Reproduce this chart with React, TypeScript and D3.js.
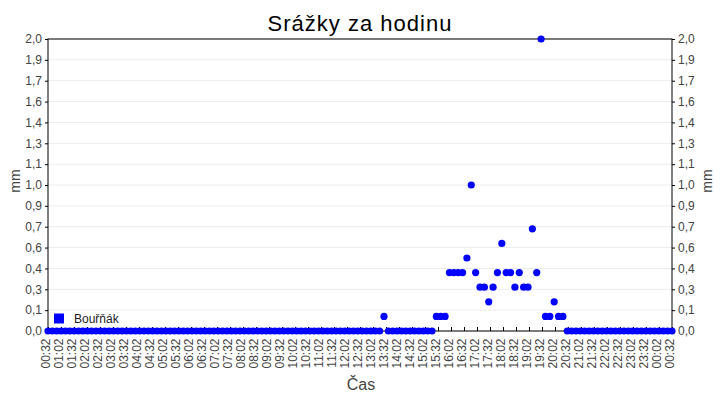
import { useEffect, useRef } from "react";
import * as d3 from "d3";

const TITLE = "Srážky za hodinu";
const SERIES_NAME = "Bouřňák";
const Y_LABEL = "mm";
const X_LABEL = "Čas";

const X_TICK_LABELS = [
  "00:32", "01:02", "01:32", "02:02", "02:32", "03:02", "03:32", "04:02", "04:32", "05:02",
  "05:32", "06:02", "06:32", "07:02", "07:32", "08:02", "08:32", "09:02", "09:32", "10:02",
  "10:32", "11:02", "11:32", "12:02", "12:32", "13:02", "13:32", "14:02", "14:32", "15:02",
  "15:32", "16:02", "16:32", "17:02", "17:32", "18:02", "18:32", "19:02", "19:32", "20:02",
  "20:32", "21:02", "21:32", "22:02", "22:32", "23:02", "23:32", "00:02", "00:32",
];

// rainfall per sample (mm), 144 samples across the day
const RAIN = [
  0, 0, 0, 0, 0, 0, 0, 0, 0, 0, 0, 0,
  0, 0, 0, 0, 0, 0, 0, 0, 0, 0, 0, 0,
  0, 0, 0, 0, 0, 0, 0, 0, 0, 0, 0, 0,
  0, 0, 0, 0, 0, 0, 0, 0, 0, 0, 0, 0,
  0, 0, 0, 0, 0, 0, 0, 0, 0, 0, 0, 0,
  0, 0, 0, 0, 0, 0, 0, 0, 0, 0, 0, 0,
  0, 0, 0, 0, 0, 0.1, 0, 0, 0, 0, 0, 0,
  0, 0, 0, 0, 0, 0.1, 0.1, 0.1, 0.4, 0.4, 0.4, 0.4,
  0.5, 1.0, 0.4, 0.3, 0.3, 0.2, 0.3, 0.4, 0.6, 0.4, 0.4, 0.3,
  0.4, 0.3, 0.3, 0.7, 0.4, 2.0, 0.1, 0.1, 0.2, 0.1, 0.1, 0,
  0, 0, 0, 0, 0, 0, 0, 0, 0, 0, 0, 0,
  0, 0, 0, 0, 0, 0, 0, 0, 0, 0, 0, 0,
];

const Y_MAX = 2;
const Y_TICK_STEPS = 14;

const FONT = "'Liberation Sans', Arial, sans-serif";
const TEXT = "#444444";
const BLUE = "#0000ff";

export default function App() {
  const svgRef = useRef<SVGSVGElement>(null);

  useEffect(() => {
    if (!svgRef.current) return;
    const svg = d3.select(svgRef.current);
    svg.selectAll("*").remove();

    const width = 720;
    const height = 400;
    const margin = { top: 39, right: 48, bottom: 69, left: 48 };
    const x0 = margin.left;
    const x1 = width - margin.right;
    const y0 = height - margin.bottom;
    const y1 = margin.top;

    // tick labels repeat (00:32 twice), so place them by index
    const xt = d3.scaleLinear().domain([0, X_TICK_LABELS.length - 1]).range([x0, x1]);
    const x = d3.scaleLinear().domain([0, RAIN.length - 1]).range([x0, x1]);
    const y = d3.scaleLinear().domain([0, Y_MAX]).range([y0, y1]);

    const yTicks = d3.range(Y_TICK_STEPS + 1).map((i) => (i * Y_MAX) / Y_TICK_STEPS);
    const fmt = (v: number) => d3.format(".1f")(v).replace(".", ",");

    svg.append("rect").attr("width", width).attr("height", height).attr("fill", "#fff");

    // grid
    svg.append("g")
      .selectAll("line")
      .data(yTicks)
      .join("line")
      .attr("x1", x0)
      .attr("x2", x1)
      .attr("y1", (d) => y(d))
      .attr("y2", (d) => y(d))
      .attr("stroke", "#ebebeb")
      .attr("stroke-width", 1);

    // left axis
    svg.append("g")
      .attr("transform", `translate(${x0},0)`)
      .call(d3.axisLeft(y).tickValues(yTicks).tickFormat((d) => fmt(+d)).tickSize(3).tickPadding(3))
      .call((g) => {
        g.select(".domain").remove();
        g.selectAll(".tick line").attr("stroke", "#000");
        g.selectAll(".tick text").attr("fill", TEXT).attr("font-family", FONT).attr("font-size", "12px");
      });

    // right axis
    svg.append("g")
      .attr("transform", `translate(${x1},0)`)
      .call(d3.axisRight(y).tickValues(yTicks).tickFormat((d) => fmt(+d)).tickSize(3).tickPadding(3))
      .call((g) => {
        g.select(".domain").remove();
        g.selectAll(".tick line").attr("stroke", "#000");
        g.selectAll(".tick text").attr("fill", TEXT).attr("font-family", FONT).attr("font-size", "12px");
      });

    // bottom ticks (inside) and rotated labels
    const tickIdx = d3.range(X_TICK_LABELS.length);
    svg.append("g")
      .attr("transform", `translate(0,${y0})`)
      .call(d3.axisBottom(xt).tickValues(tickIdx).tickSize(-4).tickFormat(() => ""))
      .call((g) => {
        g.select(".domain").remove();
        g.selectAll(".tick line").attr("stroke", "#000");
      });

    svg.append("g")
      .selectAll("text")
      .data(X_TICK_LABELS)
      .join("text")
      .attr("transform", (_, i) => `translate(${xt(i) + 1.5},${y0 + 7.5}) rotate(-90)`)
      .attr("text-anchor", "end")
      .attr("fill", TEXT)
      .attr("font-family", FONT)
      .attr("font-size", "12px")
      .text((d) => d);

    // frame
    svg.append("rect")
      .attr("x", x0)
      .attr("y", y1)
      .attr("width", x1 - x0)
      .attr("height", y0 - y1)
      .attr("fill", "none")
      .attr("stroke", "#000")
      .attr("stroke-width", 1);

    // points
    svg.append("g")
      .selectAll("circle")
      .data(RAIN)
      .join("circle")
      .attr("cx", (_, i) => x(i))
      .attr("cy", (d) => y(d))
      .attr("r", 3.6)
      .attr("fill", BLUE);

    // legend
    svg.append("rect").attr("x", 54).attr("y", 313.5).attr("width", 10).attr("height", 10).attr("fill", BLUE);
    svg.append("text")
      .attr("x", 74)
      .attr("y", 323)
      .attr("fill", "#222")
      .attr("font-family", FONT)
      .attr("font-size", "12px")
      .text(SERIES_NAME);

    // title
    svg.append("text")
      .attr("x", (x0 + x1) / 2)
      .attr("y", 31)
      .attr("text-anchor", "middle")
      .attr("fill", "#000")
      .attr("font-family", FONT)
      .attr("font-size", "22px")
      .attr("letter-spacing", "1px")
      .text(TITLE);

    // axis titles
    svg.append("text")
      .attr("transform", `translate(20,181) rotate(-90)`)
      .attr("text-anchor", "middle")
      .attr("fill", TEXT)
      .attr("font-family", FONT)
      .attr("font-size", "14px")
      .text(Y_LABEL);
    svg.append("text")
      .attr("transform", `translate(712,181) rotate(-90)`)
      .attr("text-anchor", "middle")
      .attr("fill", TEXT)
      .attr("font-family", FONT)
      .attr("font-size", "14px")
      .text(Y_LABEL);
    svg.append("text")
      .attr("x", 361)
      .attr("y", 390)
      .attr("text-anchor", "middle")
      .attr("fill", TEXT)
      .attr("font-family", FONT)
      .attr("font-size", "16px")
      .text(X_LABEL);
  }, []);

  return (
    <svg
      ref={svgRef}
      width={720}
      height={400}
      style={{ position: "absolute", left: 0, top: 0, display: "block" }}
    />
  );
}
